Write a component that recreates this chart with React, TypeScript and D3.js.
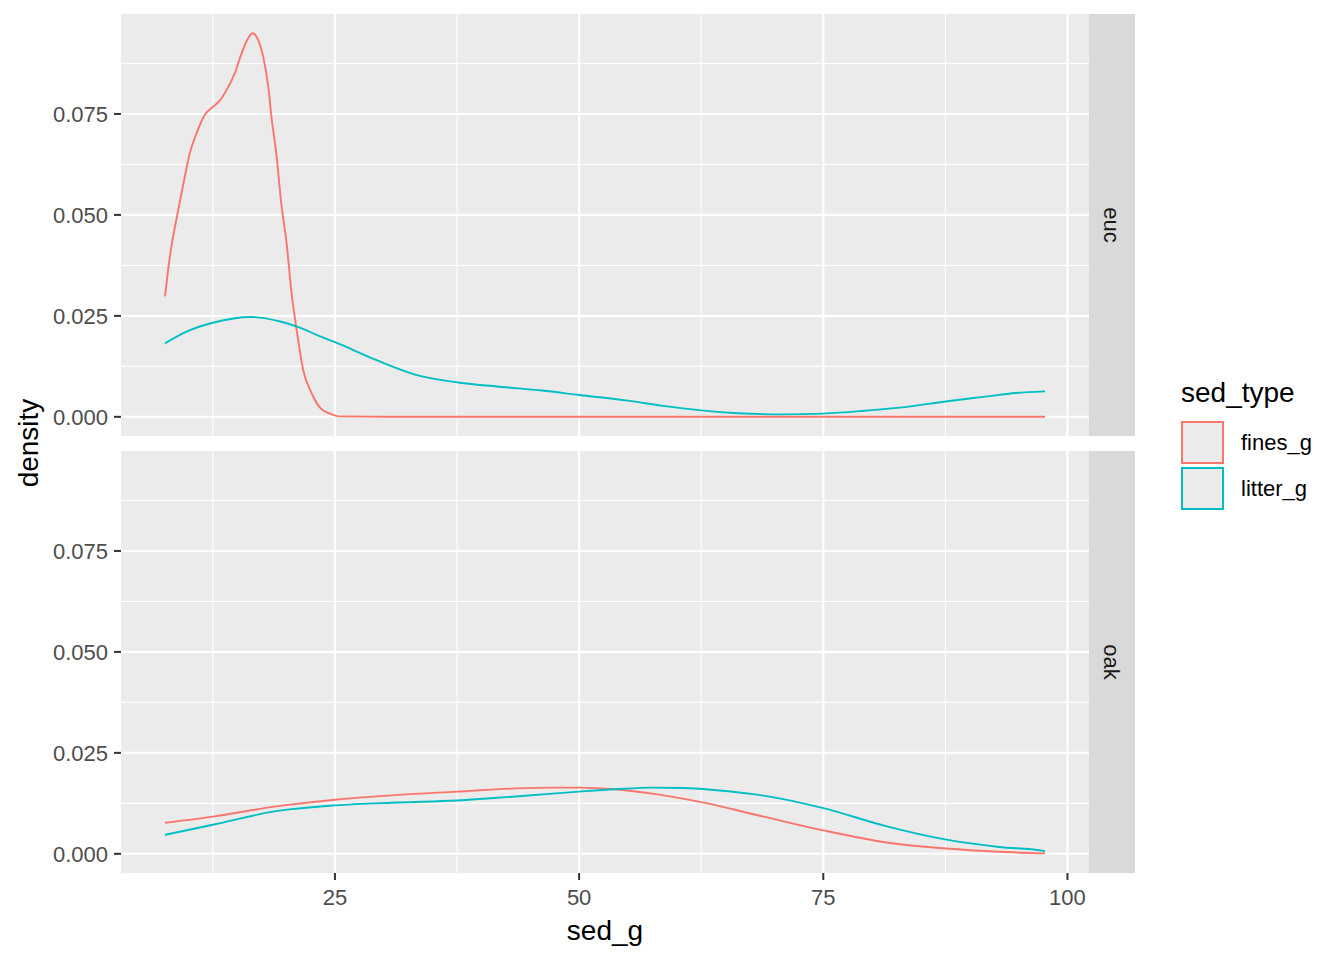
import React from 'react';
import * as d3 from 'd3';

// density curves (x = sed_g, y = density)
const sedTypes = ['fines_g', 'litter_g'];
const facets = ['euc', 'oak'];
const colors = ['#F8766D', '#00BFC4'];

const eucFinesX = [7.6, 8.1, 8.95, 9.63, 10.14, 10.83, 11.68, 12.53, 13.2, 13.9, 14.75, 15.44, 16.1, 16.56, 17.14, 17.65, 18.17, 18.5, 19.03, 19.5, 20.05, 20.56, 21.08, 21.75, 22.6, 23.5, 24.8, 25.5, 30, 50, 75, 97.7];
const eucFinesY = [0.0298, 0.0397, 0.0512, 0.0595, 0.0653, 0.0702, 0.0748, 0.0768, 0.0783, 0.0809, 0.0851, 0.09, 0.0937, 0.095, 0.0933, 0.0892, 0.0818, 0.0743, 0.0644, 0.0529, 0.043, 0.0306, 0.0215, 0.0116, 0.0059, 0.0022, 0.0005, 0.0001, 0, 0, 0, 0];

const eucLitterX = [7.6, 9.8, 12.5, 16.46, 19.4, 21.4, 23.5, 24.9, 29.2, 33.3, 37.6, 42.1, 46.2, 50, 55, 58.6, 62.5, 66.3, 71, 75, 79.2, 83.3, 87.5, 91.6, 94.7, 97.7];
const eucLitterY = [0.0182, 0.0211, 0.0233, 0.0247, 0.0236, 0.0221, 0.0199, 0.0186, 0.0141, 0.0104, 0.0085, 0.0074, 0.0065, 0.0054, 0.004, 0.0027, 0.0016, 0.0009, 0.0006, 0.0008, 0.0015, 0.0024, 0.0038, 0.005, 0.0059, 0.0063];

const oakFinesX = [7.6, 12.5, 18.8, 25, 31.5, 37.5, 43.5, 47.3, 50, 53.7, 57.5, 62.5, 68.9, 75, 81.5, 87.6, 93, 97.7];
const oakFinesY = [0.0077, 0.0092, 0.0117, 0.0134, 0.0146, 0.0154, 0.0162, 0.0164, 0.0164, 0.016, 0.0149, 0.0128, 0.0092, 0.0058, 0.0028, 0.0013, 0.0005, 0.0001];

const oakLitterX = [7.6, 12.5, 18.8, 25, 31.5, 37.5, 43.5, 50, 53.7, 57.5, 60.7, 63.8, 68.9, 75, 81.5, 87.6, 93, 97.4, 97.7];
const oakLitterY = [0.0047, 0.0072, 0.0105, 0.012, 0.0127, 0.0132, 0.0142, 0.0154, 0.016, 0.0164, 0.0163, 0.0158, 0.0144, 0.0113, 0.0068, 0.0035, 0.0017, 0.0008, 0.0006];

const xTicks = [25, 50, 75, 100];
const xMinor = [12.5, 37.5, 62.5, 87.5];
const yTicks = [0, 0.025, 0.05, 0.075];
const yMinor = [0.0125, 0.0375, 0.0625, 0.0875];

const seriesByFacet = [
  [[eucFinesX, eucFinesY], [eucLitterX, eucLitterY]],
  [[oakFinesX, oakFinesY], [oakLitterX, oakLitterY]],
];

const font = '"Liberation Sans", Arial, sans-serif';

const App = () => {
  const width = 1344;
  const height = 960;
  const left = 121;
  const right = 1089;
  const panels = [{ top: 14, bottom: 436 }, { top: 451, bottom: 873 }];
  const stripW = 46;

  const allX = seriesByFacet.flat().flatMap(s => s[0]);
  const allY = seriesByFacet.flat().flatMap(s => s[1]);
  const [x0, x1] = d3.extent(allX);
  const yMax = d3.max(allY);
  const xPad = (x1 - x0) * 0.05;
  const yPad = yMax * 0.05;

  const x = d3.scaleLinear().domain([x0 - xPad, x1 + xPad]).range([left, right]);

  return (
    <svg width={width} height={height} style={{ display: 'block', position: 'absolute', left: 0, top: 0 }}>
      <rect width={width} height={height} fill="#fff" />
      {panels.map((p, i) => {
        const y = d3.scaleLinear().domain([-yPad, yMax + yPad]).range([p.bottom, p.top]);
        const line = d3.line().x(d => x(d[0])).y(d => y(d[1])).curve(d3.curveMonotoneX);
        return (
          <g key={facets[i]}>
            <rect x={left} y={p.top} width={right - left} height={p.bottom - p.top} fill="#EBEBEB" />
            {yMinor.map(t => (
              <line key={'ym' + t} x1={left} x2={right} y1={y(t)} y2={y(t)} stroke="#fff" strokeWidth={1.1} />
            ))}
            {xMinor.map(t => (
              <line key={'xm' + t} x1={x(t)} x2={x(t)} y1={p.top} y2={p.bottom} stroke="#fff" strokeWidth={1.1} />
            ))}
            {yTicks.map(t => (
              <line key={'y' + t} x1={left} x2={right} y1={y(t)} y2={y(t)} stroke="#fff" strokeWidth={2.1} />
            ))}
            {xTicks.map(t => (
              <line key={'x' + t} x1={x(t)} x2={x(t)} y1={p.top} y2={p.bottom} stroke="#fff" strokeWidth={2.1} />
            ))}
            {seriesByFacet[i].map((s, j) => (
              <path key={sedTypes[j]} d={line(s[0].map((v, k) => [v, s[1][k]]))} fill="none" stroke={colors[j]} strokeWidth={1.9} />
            ))}
            {yTicks.map(t => (
              <g key={'yl' + t}>
                <line x1={left - 7} x2={left} y1={y(t)} y2={y(t)} stroke="#333" strokeWidth={2} />
                <text x={left - 13} y={y(t)} dy="0.36em" textAnchor="end" fontFamily={font} fontSize={22} fill="#4D4D4D">
                  {d3.format('.3f')(t)}
                </text>
              </g>
            ))}
            <rect x={right} y={p.top} width={stripW} height={p.bottom - p.top} fill="#D9D9D9" />
            <text
              transform={`translate(${right + stripW / 2},${(p.top + p.bottom) / 2}) rotate(90)`}
              textAnchor="middle" dy="0.36em" fontFamily={font} fontSize={22} fill="#1A1A1A"
            >
              {facets[i]}
            </text>
          </g>
        );
      })}
      {xTicks.map(t => (
        <g key={'xl' + t}>
          <line x1={x(t)} x2={x(t)} y1={873} y2={880} stroke="#333" strokeWidth={2} />
          <text x={x(t)} y={905} textAnchor="middle" fontFamily={font} fontSize={22} fill="#4D4D4D">{t}</text>
        </g>
      ))}
      <text x={(left + right) / 2} y={940} textAnchor="middle" fontFamily={font} fontSize={28} fill="#000">sed_g</text>
      <text transform={`translate(38,443) rotate(-90)`} textAnchor="middle" fontFamily={font} fontSize={28} fill="#000">density</text>
      <text x={1181} y={402} fontFamily={font} fontSize={28} fill="#000">sed_type</text>
      {sedTypes.map((s, j) => (
        <g key={s}>
          <rect x={1181} y={421 + j * 46} width={43} height={43} fill="#EBEBEB" />
          <rect x={1182} y={422 + j * 46} width={41} height={41} fill="none" stroke={colors[j]} strokeWidth={2} />
          <text x={1241} y={442.5 + j * 46} dy="0.36em" fontFamily={font} fontSize={22} fill="#000">{s}</text>
        </g>
      ))}
    </svg>
  );
};

export default App;
